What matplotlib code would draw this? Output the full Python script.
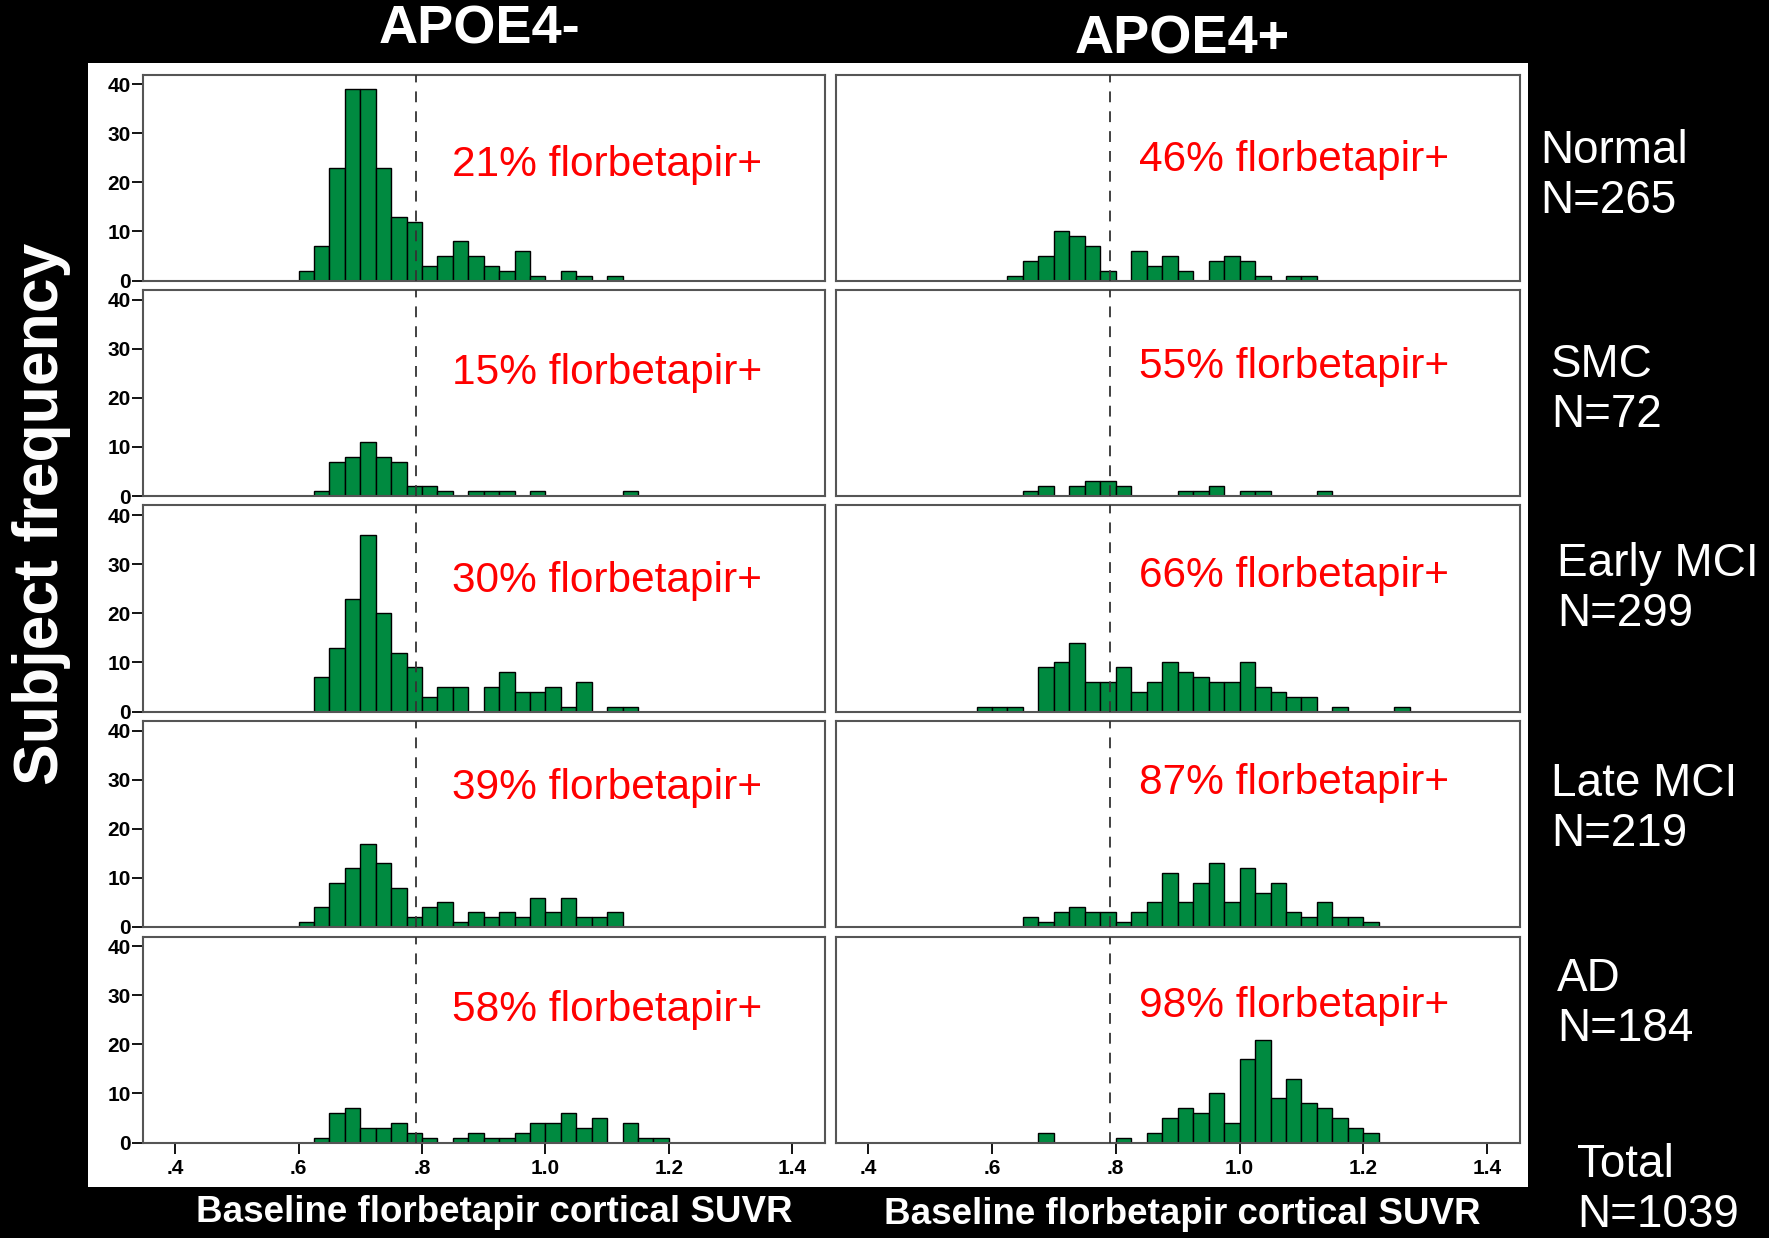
import matplotlib.pyplot as plt
from matplotlib.patches import Rectangle
import numpy as np

plt.rcParams['font.family'] = ['Liberation Sans', 'DejaVu Sans']

# histogram bins: left edges from 0.575, width 0.025, 28 bins
bin_start = 0.575
bin_width = 0.025
cutoff = 0.79

groups = ['Normal', 'SMC', 'Early MCI', 'Late MCI', 'AD']
group_n = [265, 72, 299, 219, 184]
total_n = 1039
columns = ['APOE4-', 'APOE4+']

# counts per bin, APOE4- (left column)
neg_normal = [0, 2, 7, 23, 39, 39, 23, 13, 12, 3, 5, 8, 5, 3, 2, 6, 1, 0, 2, 1, 0, 1, 0, 0, 0, 0, 0, 0]
neg_smc    = [0, 0, 1, 7, 8, 11, 8, 7, 2, 2, 1, 0, 1, 1, 1, 0, 1, 0, 0, 0, 0, 0, 1, 0, 0, 0, 0, 0]
neg_emci   = [0, 0, 7, 13, 23, 36, 20, 12, 9, 3, 5, 5, 0, 5, 8, 4, 4, 5, 1, 6, 0, 1, 1, 0, 0, 0, 0, 0]
neg_lmci   = [0, 1, 4, 9, 12, 17, 13, 8, 2, 4, 5, 1, 3, 2, 3, 2, 6, 3, 6, 2, 2, 3, 0, 0, 0, 0, 0, 0]
neg_ad     = [0, 0, 1, 6, 7, 3, 3, 4, 2, 1, 0, 1, 2, 1, 1, 2, 4, 4, 6, 3, 5, 0, 4, 1, 1, 0, 0, 0]

# counts per bin, APOE4+ (right column)
pos_normal = [0, 0, 1, 4, 5, 10, 9, 7, 2, 0, 6, 3, 5, 2, 0, 4, 5, 4, 1, 0, 1, 1, 0, 0, 0, 0, 0, 0]
pos_smc    = [0, 0, 0, 1, 2, 0, 2, 3, 3, 2, 0, 0, 0, 1, 1, 2, 0, 1, 1, 0, 0, 0, 1, 0, 0, 0, 0, 0]
pos_emci   = [1, 1, 1, 0, 9, 10, 14, 6, 6, 9, 4, 6, 10, 8, 7, 6, 6, 10, 5, 4, 3, 3, 0, 1, 0, 0, 0, 1]
pos_lmci   = [0, 0, 0, 2, 1, 3, 4, 3, 3, 1, 3, 5, 11, 5, 9, 13, 5, 12, 7, 9, 3, 2, 5, 2, 2, 1, 0, 0]
pos_ad     = [0, 0, 0, 0, 2, 0, 0, 0, 0, 1, 0, 2, 5, 7, 6, 10, 4, 17, 21, 9, 13, 8, 7, 5, 3, 2, 0, 0]

neg_counts = [neg_normal, neg_smc, neg_emci, neg_lmci, neg_ad]
pos_counts = [pos_normal, pos_smc, pos_emci, pos_lmci, pos_ad]
neg_pct = [21, 15, 30, 39, 58]
pos_pct = [46, 55, 66, 87, 98]

xticks = [0.4, 0.6, 0.8, 1.0, 1.2, 1.4]
xtick_labels = ['.4', '.6', '.8', '1.0', '1.2', '1.4']
yticks = [0, 10, 20, 30, 40]

W, H = 1769, 1238
fig = plt.figure(figsize=(W / 100, H / 100), dpi=100, facecolor='black')
fig.add_artist(Rectangle((88 / W, 1 - 1187 / H), 1440 / W, 1124 / H,
                         transform=fig.transFigure, facecolor='white',
                         edgecolor='none', zorder=-1))

col_left = [143, 836]
col_width = [682, 684]
row_top0 = 74.5
row_step = 215.5
row_h = 206
neg_text_y = [0.56, 0.595, 0.635, 0.674, 0.643]
pos_text_y = [0.585, 0.624, 0.656, 0.70, 0.663]

edges = bin_start + bin_width * np.arange(len(neg_normal))
tick_font = {'family': ['Liberation Sans Narrow', 'Liberation Sans'], 'weight': 'bold', 'size': 15}

for r in range(5):
    top = row_top0 + r * row_step
    for c in range(2):
        ax = fig.add_axes([col_left[c] / W, 1 - (top + row_h) / H, col_width[c] / W, row_h / H])
        counts = np.array(neg_counts[r] if c == 0 else pos_counts[r])
        keep = counts > 0
        ax.bar(edges[keep], counts[keep], width=bin_width, align='edge',
               color='#008a40', edgecolor='black', linewidth=1.0, zorder=2)
        ax.axvline(cutoff, color='#333333', linestyle=(0, (6, 5)), linewidth=1.3, zorder=3)
        ax.set_xlim(0.348, 1.453)
        ax.set_ylim(0, 42)
        for s in ax.spines.values():
            s.set_color('#555555')
            s.set_linewidth(1.5)
        pct = neg_pct[r] if c == 0 else pos_pct[r]
        ty = neg_text_y[r] if c == 0 else pos_text_y[r]
        tx = 0.849 if c == 0 else 0.838
        ax.text(tx, ty, f'{pct}% florbetapir+', color='#ff0000', fontsize=30.5,
                transform=ax.get_xaxis_transform(), ha='left', va='center')
        if r == 4:
            ax.set_xticks(xticks)
            ax.set_xticklabels(xtick_labels, fontdict=tick_font)
            ax.tick_params(axis='x', length=8, width=1.3, pad=4)
        else:
            ax.set_xticks([])
        if c == 0:
            ax.set_yticks(yticks)
            ax.set_yticklabels([str(v) for v in yticks], fontdict=tick_font)
            ax.tick_params(axis='y', length=8, width=1.3, pad=1)
        else:
            ax.set_yticks([])

# column titles
fig.text(479 / W, 1 - 30 / H, columns[0], color='white', fontsize=39, fontweight='bold',
         ha='center', va='center')
fig.text(1182 / W, 1 - 39 / H, columns[1], color='white', fontsize=39, fontweight='bold',
         ha='center', va='center')

# y label
fig.text(42 / W, 1 - 514 / H, 'Subject frequency', color='white', fontsize=45,
         fontweight='bold', rotation=90, ha='center', va='center')

# x labels
xlab = 'Baseline florbetapir cortical SUVR'
fig.text(494 / W, 1 - 1213 / H, xlab, color='white', fontsize=26.5, fontweight='bold',
         ha='center', va='center')
fig.text(1182 / W, 1 - 1215 / H, xlab, color='white', fontsize=26.5, fontweight='bold',
         ha='center', va='center')

# group labels on the right
label_x = [1540, 1551, 1557, 1551, 1557]
label_y = [176, 390, 589, 809, 1004]
for g, n, lx, ly in zip(groups, group_n, label_x, label_y):
    fig.text(lx / W, 1 - ly / H, f'{g}\nN={n}', color='white', fontsize=33,
             ha='left', va='center', linespacing=1.2)
fig.text(1577 / W, 1 - 1190 / H, f'Total\nN={total_n}', color='white', fontsize=33,
         ha='left', va='center', linespacing=1.2)

fig.savefig('out.png', dpi=100, facecolor='black')
